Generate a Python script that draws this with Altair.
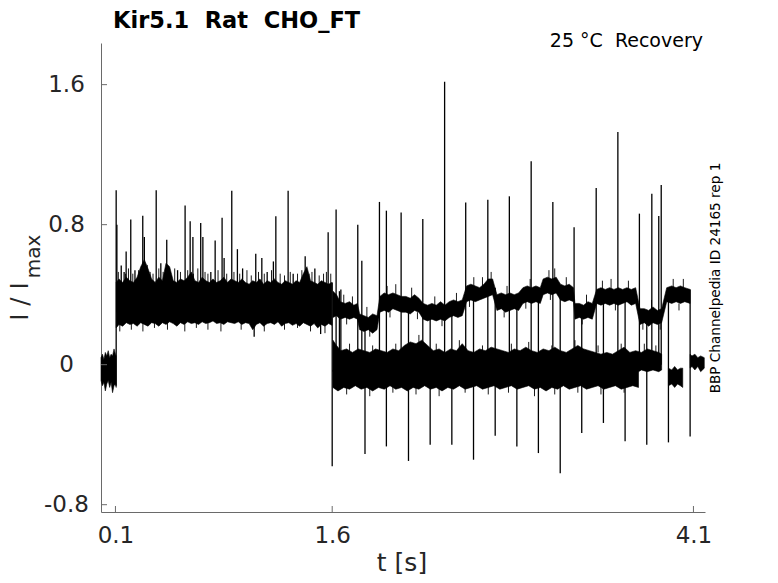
import altair as alt
import pandas as pd

# ---------------- data ----------------
TITLE = "Kir5.1 \u00a0Rat \u00a0CHO_FT"
CONDITION = "25 \u00b0C \u00a0Recovery"
SOURCE = "BBP Channelpedia ID 24165 rep 1"
X_TITLE = "t [s]"
Y_TITLE_MAIN = "I / I"
Y_TITLE_SUB = "max"

X_TICKS = [0.1, 1.6, 4.1]
Y_TICKS = [-0.8, 0, 0.8, 1.6]

# noise bands: time, lower envelope, upper envelope
PRE_T = [0.000, 0.010, 0.020, 0.030, 0.040, 0.050, 0.060, 0.070, 0.080, 0.090, 0.100, 0.105]
PRE_LO = [-0.09, -0.12, -0.10, -0.15, -0.11, -0.09, -0.13, -0.10, -0.16, -0.12, -0.11, -0.13]
PRE_HI = [0.04, 0.06, 0.03, 0.07, 0.05, 0.08, 0.04, 0.06, 0.05, 0.09, 0.06, 0.05]

MAIN_T = [0.105, 0.125, 0.15, 0.175, 0.20, 0.225, 0.25, 0.275, 0.30, 0.325,
          0.35, 0.375, 0.40, 0.425, 0.45, 0.475, 0.50, 0.525, 0.55, 0.575,
          0.60, 0.625, 0.65, 0.675, 0.70, 0.725, 0.75, 0.775, 0.80, 0.825,
          0.85, 0.875, 0.90, 0.925, 0.95, 0.975, 1.00, 1.025, 1.05, 1.075,
          1.10, 1.125, 1.15, 1.175, 1.20, 1.225, 1.25, 1.275, 1.30, 1.325,
          1.35, 1.375, 1.40, 1.425, 1.45, 1.475, 1.50, 1.525, 1.55, 1.575, 1.598]
MAIN_HI = [0.47, 0.49, 0.47, 0.50, 0.48, 0.47, 0.50, 0.56, 0.60, 0.55,
           0.49, 0.47, 0.50, 0.48, 0.58, 0.56, 0.48, 0.47, 0.49, 0.48,
           0.50, 0.53, 0.48, 0.47, 0.50, 0.48, 0.47, 0.49, 0.47, 0.48,
           0.50, 0.47, 0.49, 0.48, 0.47, 0.49, 0.47, 0.46, 0.48, 0.47,
           0.49, 0.46, 0.48, 0.47, 0.49, 0.47, 0.46, 0.48, 0.47, 0.46,
           0.48, 0.47, 0.52, 0.56, 0.48, 0.47, 0.46, 0.48, 0.47, 0.46, 0.47]
MAIN_LO = [0.21, 0.23, 0.22, 0.24, 0.23, 0.235, 0.22, 0.24, 0.23, 0.22,
           0.24, 0.235, 0.22, 0.24, 0.23, 0.245, 0.235, 0.22, 0.24, 0.23,
           0.245, 0.235, 0.24, 0.23, 0.245, 0.235, 0.24, 0.25, 0.235, 0.24,
           0.23, 0.245, 0.24, 0.235, 0.245, 0.23, 0.24, 0.235, 0.20, 0.23,
           0.24, 0.22, 0.235, 0.24, 0.23, 0.245, 0.22, 0.235, 0.24, 0.225,
           0.235, 0.22, 0.24, 0.23, 0.22, 0.235, 0.21, 0.23, 0.22, 0.235, 0.225]

UP_T = [1.605, 1.63, 1.655, 1.69, 1.72, 1.75, 1.775, 1.79, 1.82, 1.85,
        1.88, 1.91, 1.93, 1.96, 1.99, 2.02, 2.05, 2.08, 2.11, 2.14,
        2.17, 2.20, 2.23, 2.26, 2.29, 2.32, 2.35, 2.38, 2.41, 2.44,
        2.47, 2.50, 2.53, 2.56, 2.59, 2.62, 2.65, 2.68, 2.71, 2.74,
        2.77, 2.80, 2.83, 2.86, 2.89, 2.92, 2.95, 2.98, 3.01, 3.04,
        3.06, 3.09, 3.12, 3.15, 3.18, 3.21, 3.24, 3.27, 3.28, 3.31,
        3.34, 3.37, 3.40, 3.43, 3.46, 3.49, 3.52, 3.55, 3.58, 3.61,
        3.64, 3.67, 3.70, 3.73, 3.76, 3.79, 3.82, 3.85, 3.88, 3.915,
        3.95, 3.98, 4.01, 4.04, 4.077]
UP_LO = [0.27, 0.28, 0.26, 0.27, 0.26, 0.27, 0.26, 0.20, 0.19, 0.20,
         0.18, 0.20, 0.30, 0.31, 0.30, 0.32, 0.31, 0.30, 0.30, 0.29,
         0.31, 0.30, 0.26, 0.25, 0.26, 0.25, 0.26, 0.25, 0.27, 0.28,
         0.27, 0.28, 0.36, 0.37, 0.36, 0.37, 0.38, 0.39, 0.40, 0.31,
         0.32, 0.30, 0.31, 0.32, 0.31, 0.35, 0.36, 0.35, 0.36, 0.35,
         0.40, 0.41, 0.40, 0.41, 0.37, 0.36, 0.37, 0.36, 0.26, 0.27,
         0.26, 0.27, 0.26, 0.35, 0.34, 0.35, 0.34, 0.35, 0.34, 0.35,
         0.36, 0.34, 0.35, 0.23, 0.24, 0.22, 0.24, 0.23, 0.24, 0.36,
         0.35, 0.36, 0.35, 0.36, 0.35]
UP_HI = [0.42, 0.40, 0.36, 0.35, 0.36, 0.34, 0.35, 0.29, 0.28, 0.27,
         0.29, 0.28, 0.39, 0.41, 0.40, 0.41, 0.40, 0.39, 0.39, 0.38,
         0.40, 0.38, 0.35, 0.34, 0.35, 0.34, 0.36, 0.34, 0.36, 0.37,
         0.36, 0.37, 0.45, 0.46, 0.45, 0.44, 0.46, 0.49, 0.49, 0.40,
         0.41, 0.40, 0.41, 0.40, 0.41, 0.44, 0.45, 0.44, 0.45, 0.44,
         0.49, 0.50, 0.49, 0.50, 0.46, 0.45, 0.46, 0.44, 0.35, 0.35,
         0.34, 0.36, 0.35, 0.43, 0.44, 0.43, 0.44, 0.43, 0.44, 0.43,
         0.44, 0.43, 0.44, 0.32, 0.32, 0.31, 0.33, 0.31, 0.32, 0.44,
         0.45, 0.44, 0.45, 0.44, 0.43]

LOWA_T = [1.605, 1.63, 1.66, 1.70, 1.74, 1.78, 1.82, 1.86, 1.90, 1.94,
          1.98, 2.02, 2.06, 2.10, 2.14, 2.18, 2.22, 2.26, 2.30, 2.34,
          2.38, 2.42, 2.46, 2.50, 2.54, 2.58, 2.62, 2.66, 2.70, 2.74,
          2.78, 2.82, 2.86, 2.90, 2.94, 2.98, 3.02, 3.06, 3.10, 3.14,
          3.18, 3.22, 3.26, 3.30, 3.34, 3.38, 3.42, 3.46, 3.50, 3.54,
          3.58, 3.62, 3.66, 3.70, 3.74, 3.78, 3.82, 3.86, 3.88]
LOWA_LO = [-0.04, -0.05, -0.04, -0.05, -0.04, -0.05, -0.04, -0.05, -0.04, -0.05,
           -0.04, -0.05, -0.04, -0.05, -0.04, -0.05, -0.04, -0.05, -0.04, -0.05,
           -0.04, -0.05, -0.04, -0.05, -0.04, -0.05, -0.04, -0.05, -0.04, -0.05,
           -0.04, -0.05, -0.04, -0.05, -0.04, -0.05, -0.04, -0.05, -0.04, -0.05,
           -0.04, -0.05, -0.04, -0.05, -0.04, -0.05, -0.04, -0.05, -0.04, -0.05,
           -0.04, -0.05, -0.04, -0.05, -0.03, -0.04, -0.03, -0.04, -0.03]
LOWA_HI = [0.14, 0.11, 0.08, 0.09, 0.07, 0.09, 0.08, 0.07, 0.09, 0.08,
           0.07, 0.09, 0.08, 0.11, 0.13, 0.12, 0.14, 0.11, 0.08, 0.09,
           0.07, 0.09, 0.08, 0.12, 0.08, 0.07, 0.09, 0.08, 0.10, 0.09,
           0.08, 0.07, 0.09, 0.08, 0.10, 0.08, 0.07, 0.09, 0.08, 0.10,
           0.08, 0.07, 0.09, 0.11, 0.09, 0.08, 0.07, 0.06, 0.07, 0.06,
           0.08, 0.10, 0.07, 0.08, 0.07, 0.09, 0.08, 0.07, 0.06]

LOWB_T = [1.605, 1.64, 1.68, 1.72, 1.76, 1.80, 1.84, 1.88, 1.92, 1.96,
          2.00, 2.04, 2.08, 2.12, 2.16, 2.20, 2.24, 2.28, 2.32, 2.36,
          2.40, 2.44, 2.48, 2.52, 2.56, 2.60, 2.64, 2.68, 2.72, 2.76,
          2.80, 2.84, 2.88, 2.92, 2.96, 3.00, 3.04, 3.08, 3.12, 3.16,
          3.20, 3.24, 3.28, 3.32, 3.36, 3.40, 3.44, 3.48, 3.52, 3.56,
          3.60, 3.64, 3.68, 3.72]
LOWB_LO = [-0.13, -0.15, -0.13, -0.14, -0.12, -0.14, -0.13, -0.15, -0.13, -0.14,
           -0.12, -0.14, -0.13, -0.15, -0.13, -0.14, -0.12, -0.14, -0.13, -0.15,
           -0.13, -0.14, -0.12, -0.14, -0.13, -0.12, -0.14, -0.13, -0.12, -0.14,
           -0.13, -0.12, -0.14, -0.13, -0.12, -0.14, -0.13, -0.15, -0.13, -0.14,
           -0.12, -0.14, -0.13, -0.12, -0.14, -0.13, -0.12, -0.14, -0.13, -0.12,
           -0.14, -0.13, -0.12, -0.13]
LOWB_HI = [-0.03, -0.04, -0.03, -0.04, -0.03, -0.04, -0.03, -0.04, -0.03, -0.04,
           -0.03, -0.04, -0.03, -0.04, -0.03, -0.04, -0.03, -0.04, -0.03, -0.04,
           -0.03, -0.04, -0.03, -0.04, -0.03, -0.04, -0.03, -0.04, -0.03, -0.04,
           -0.03, -0.04, -0.03, -0.04, -0.03, -0.04, -0.03, -0.04, -0.03, -0.04,
           -0.03, -0.04, -0.03, -0.04, -0.03, -0.04, -0.03, -0.04, -0.03, -0.04,
           -0.03, -0.04, -0.03, -0.04]

LOWC_T = [3.927, 3.95, 3.97, 3.99, 4.01, 4.026]
LOWC_LO = [-0.12, -0.11, -0.13, -0.11, -0.12, -0.13]
LOWC_HI = [-0.02, -0.03, -0.01, -0.03, -0.02, -0.02]

END_T = [4.077, 4.09, 4.11, 4.13, 4.15, 4.175]
END_LO = [-0.02, -0.01, -0.03, -0.01, -0.04, -0.02]
END_HI = [0.06, 0.05, 0.06, 0.04, 0.05, 0.04]

# spikes: time, bottom, top
SPIKE_T = [0.105, 0.110, 0.140, 0.160, 0.174, 0.206, 0.235, 0.289, 0.300, 0.382,
           0.414, 0.455, 0.530, 0.582, 0.617, 0.636, 0.690, 0.705, 0.760, 0.790,
           0.838, 0.852, 0.905, 0.944, 0.980, 1.060, 1.071, 1.113, 1.150, 1.193,
           1.210, 1.295, 1.330, 1.413, 1.480, 1.520, 1.572, 1.600, 1.627, 1.650,
           1.660, 1.777, 1.805, 1.827, 1.927, 1.975, 2.077, 2.128, 2.227, 2.278,
           2.378, 2.428, 2.524, 2.578, 2.677, 2.728, 2.826, 2.878, 2.977, 3.027,
           3.127, 3.178, 3.274, 3.327, 3.427, 3.477, 3.577, 3.627, 3.726, 3.777,
           3.812, 3.860, 3.877, 3.927, 4.077]
SPIKE_LO = [-0.12, 0.30, 0.45, 0.45, 0.45, 0.45, 0.45, 0.45, 0.45, 0.45,
            0.45, 0.45, 0.45, 0.45, 0.45, 0.45, 0.45, 0.45, 0.45, 0.45,
            0.45, 0.45, 0.45, 0.45, 0.45, 0.16, 0.45, 0.45, 0.45, 0.45,
            0.45, 0.45, 0.45, 0.45, 0.45, 0.175, 0.45, -0.58, -0.04, 0.0,
            0.0, 0.0, 0.0, -0.51, 0.0, -0.467, 0.0, -0.55, 0.0, -0.457,
            0.0, -0.457, 0.0, -0.543, 0.0, -0.406, 0.0, -0.467, 0.0, -0.505,
            0.0, -0.62, 0.0, -0.39, 0.0, -0.333, 0.0, -0.438, 0.0, -0.457,
            0.0, 0.0, 0.0, -0.444, -0.41]
SPIKE_HI = [0.996, 0.80, 0.566, 0.53, 0.647, 0.829, 0.54, 0.851, 0.73, 0.996,
            0.58, 0.714, 0.54, 0.91, 0.82, 0.73, 0.81, 0.73, 0.53, 0.71,
            0.84, 0.61, 0.994, 0.66, 0.55, 0.25, 0.634, 0.61, 0.53, 0.59,
            0.848, 0.994, 0.52, 0.62, 0.55, 0.25, 0.756, 0.47, 0.886, 0.42,
            0.43, 0.80, 0.594, 0.25, 0.93, 0.88, 0.87, 0.34, 0.832, 0.30,
            1.617, 0.32, 0.926, 0.41, 0.943, 0.44, 0.962, 0.36, 1.162, 0.40,
            0.93, 0.45, 0.785, 0.30, 1.01, 0.39, 1.33, 0.39, 0.863, 0.27,
            0.977, 0.85, 1.027, 0.40, 0.43]

# short noise hairs on the band edges: time, bottom, top
HAIR_T = [0.12, 0.17, 0.19, 0.22, 0.26, 0.32, 0.34, 0.36, 0.40, 0.43,
          0.48, 0.51, 0.55, 0.60, 0.64, 0.67, 0.72, 0.74, 0.81, 0.87,
          0.92, 0.96, 1.01, 1.04, 1.09, 1.13, 1.18, 1.24, 1.27, 1.31,
          1.36, 1.39, 1.44, 1.46, 1.51, 1.54, 1.56, 1.59,
          0.13, 0.21, 0.29, 0.37, 0.46, 0.58, 0.66, 0.74, 0.83, 0.97,
          1.13, 1.27, 1.36, 1.45, 1.55,
          1.68, 1.74, 1.84, 1.98, 2.04, 2.15, 2.31, 2.46, 2.58, 2.64,
          2.70, 2.81, 2.97, 3.10, 3.14, 3.22, 3.36, 3.47, 3.53, 3.65,
          3.81, 3.96, 4.03,
          1.70, 1.86, 2.00, 2.19, 2.36, 2.55, 2.79, 2.94, 3.11, 3.33,
          3.56, 3.75, 3.87, 4.00,
          1.72, 1.88, 2.04, 2.20, 2.32, 2.48, 2.64, 2.84, 2.96, 3.12,
          3.28, 3.44, 3.60, 3.76, 3.84,
          1.70, 1.86, 2.02, 2.18, 2.34, 2.52, 2.68, 2.82, 3.00, 3.14,
          3.30, 3.46, 3.62]
HAIR_LO = [0.46] * 38 + \
          [0.19, 0.20, 0.19, 0.21, 0.20, 0.19, 0.21, 0.20, 0.19, 0.20,
           0.19, 0.20, 0.21, 0.19, 0.18] + \
          [0.34, 0.34, 0.27, 0.39, 0.40, 0.38, 0.33, 0.35, 0.44, 0.44,
           0.48, 0.39, 0.44, 0.49, 0.49, 0.45, 0.34, 0.43, 0.43, 0.43,
           0.31, 0.44, 0.43] + \
          [0.23, 0.16, 0.27, 0.26, 0.22, 0.33, 0.27, 0.32, 0.37, 0.23,
           0.31, 0.20, 0.20, 0.31] + \
          [0.07] * 15 + \
          [-0.17, -0.18, -0.16, -0.17, -0.18, -0.16, -0.17, -0.16, -0.18, -0.17,
           -0.16, -0.17, -0.16]
HAIR_HI = [0.53, 0.52, 0.55, 0.52, 0.54, 0.57, 0.53, 0.52, 0.55, 0.53,
           0.52, 0.55, 0.53, 0.54, 0.52, 0.55, 0.53, 0.52, 0.54, 0.52,
           0.53, 0.52, 0.54, 0.51, 0.53, 0.52, 0.54, 0.52, 0.51, 0.53,
           0.52, 0.54, 0.52, 0.53, 0.51, 0.52, 0.53, 0.52] + \
          [0.24] * 15 + \
          [0.40, 0.39, 0.33, 0.45, 0.46, 0.44, 0.39, 0.41, 0.50, 0.50,
           0.53, 0.45, 0.49, 0.54, 0.55, 0.50, 0.40, 0.48, 0.49, 0.48,
           0.37, 0.49, 0.49] + \
          [0.27, 0.20, 0.31, 0.30, 0.26, 0.37, 0.31, 0.36, 0.41, 0.27,
           0.35, 0.24, 0.24, 0.35] + \
          [0.12, 0.11, 0.12, 0.17, 0.12, 0.14, 0.11, 0.12, 0.13, 0.11,
           0.14, 0.11, 0.12, 0.12, 0.11] + \
          [-0.12] * 13

# ---------------- tables ----------------
band_sets = {
    "pre": (PRE_T, PRE_LO, PRE_HI),
    "main": (MAIN_T, MAIN_LO, MAIN_HI),
    "up": (UP_T, UP_LO, UP_HI),
    "lowa": (LOWA_T, LOWA_LO, LOWA_HI),
    "lowb": (LOWB_T, LOWB_LO, LOWB_HI),
    "lowc": (LOWC_T, LOWC_LO, LOWC_HI),
    "end": (END_T, END_LO, END_HI),
}
rows = []
for name, (ts, los, his) in band_sets.items():
    for t, lo, hi in zip(ts, los, his):
        rows.append({"band": name, "t": t, "lo": lo, "hi": hi})
bands = pd.DataFrame(rows)
spikes = pd.DataFrame([{"t": a, "lo": b, "hi": c} for a, b, c in zip(SPIKE_T, SPIKE_LO, SPIKE_HI)])
hairs = pd.DataFrame([{"t": a, "lo": b, "hi": c} for a, b, c in zip(HAIR_T, HAIR_LO, HAIR_HI)])

W, H = 604, 469
FONT = "DejaVu Sans"
AXIS_GRAY = "#6a6a6a"
LABEL = "#262626"

xscale = alt.Scale(domain=[0, 4.18], nice=False, zero=False)
yscale = alt.Scale(domain=[-0.8417, 1.838], nice=False, zero=False)

xaxis = alt.Axis(values=X_TICKS, labelExpr="datum.value + ''", title=None, grid=False,
                 ticks=False, tickSize=0, labelPadding=12, labelFontSize=23, labelFont=FONT,
                 labelColor=LABEL, domainColor=AXIS_GRAY, domainWidth=1, labelFlush=False)
yaxis = alt.Axis(values=Y_TICKS, labelExpr="datum.value + ''", title=None, grid=False,
                 ticks=False, tickSize=0, labelPadding=35, labelAlign="center",
                 labelFontSize=23, labelFont=FONT, labelColor=LABEL,
                 domainColor=AXIS_GRAY, domainWidth=1)

X = alt.X("t:Q", scale=xscale, axis=xaxis)
Y = alt.Y("lo:Q", scale=yscale, axis=yaxis)

band_layer = alt.Chart(bands).mark_area(color="black", opacity=1, stroke="black",
                                         strokeWidth=0.6).encode(
    x=X, y=Y, y2="hi:Q", detail="band:N")

hair_layer = alt.Chart(hairs).mark_rule(color="black", strokeWidth=0.9).encode(
    x=X, y=Y, y2="hi:Q")

spike_layer = alt.Chart(spikes).mark_rule(color="black", strokeWidth=1.3).encode(
    x=X, y=Y, y2="hi:Q")

xt = pd.DataFrame({"t": X_TICKS})
yt = pd.DataFrame({"lo": Y_TICKS})
xtick_layer = alt.Chart(xt).mark_rule(color=AXIS_GRAY, strokeWidth=1).encode(
    x=X, y=alt.value(H), y2=alt.value(H - 6))
ytick_layer = alt.Chart(yt).mark_rule(color=AXIS_GRAY, strokeWidth=1).encode(
    y=Y, x=alt.value(0), x2=alt.value(6))


def text_layer(txt, x, y, size, align="left", baseline="alphabetic", angle=0,
               bold=False, color="black"):
    return alt.Chart(pd.DataFrame({"label": [txt]})).mark_text(
        align=align, baseline=baseline, angle=angle, fontSize=size, font=FONT,
        fontWeight="bold" if bold else "normal", color=color,
    ).encode(text="label:N", x=alt.value(x), y=alt.value(y))


title_layer = text_layer(TITLE, 12, -15, 22.5, bold=True)
cond_layer = text_layer(CONDITION, 602, 3.6, 19, align="right")
src_layer = text_layer(SOURCE, 619, 235, 13.6, align="center", angle=270)
xtitle_layer = text_layer(X_TITLE, 301, 527.5, 25, align="center", color=LABEL)
ymain_layer = text_layer(Y_TITLE_MAIN, -73.5, 258.5, 24.5, align="center", angle=270, color=LABEL)
ysub_layer = text_layer(Y_TITLE_SUB, -61, 213.5, 20, align="center", angle=270, color=LABEL)

chart = alt.layer(
    band_layer, hair_layer, spike_layer, xtick_layer, ytick_layer,
    title_layer, cond_layer, src_layer, xtitle_layer, ymain_layer, ysub_layer,
).properties(
    width=W, height=H,
    background="white",
    autosize=alt.AutoSizeParams(type="none"),
    padding={"left": 93, "top": 35, "right": 64, "bottom": 63},
).configure_view(stroke=None)

chart.save("out.html", embed_options={"renderer": "svg", "actions": False})
